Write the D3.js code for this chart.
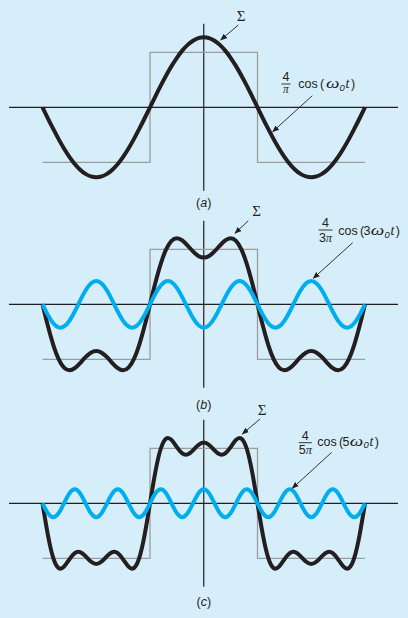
<!DOCTYPE html>
<html>
<head>
<meta charset="utf-8">
<script src="https://cdn.jsdelivr.net/npm/d3@7"></script>
<style>
  html, body { margin: 0; padding: 0; background: #d6eefa; }
  svg { display: block; }
</style>
</head>
<body>
<script>
// ---------- DATA (t in units of pi, values in units of the square-wave height) ----------
const tPi = [-1.5, -1.45, -1.4, -1.35, -1.3, -1.25, -1.2, -1.15, -1.1, -1.05,
  -1.0, -0.95, -0.9, -0.85, -0.8, -0.75, -0.7, -0.65, -0.6, -0.55,
  -0.5, -0.45, -0.4, -0.35, -0.3, -0.25, -0.2, -0.15, -0.1, -0.05,
  0,
  0.05, 0.1, 0.15, 0.2, 0.25, 0.3, 0.35, 0.4, 0.45, 0.5,
  0.55, 0.6, 0.65, 0.7, 0.75, 0.8, 0.85, 0.9, 0.95, 1.0,
  1.05, 1.1, 1.15, 1.2, 1.25, 1.3, 1.35, 1.4, 1.45, 1.5];

// (a) first term = sum of one term
const sumA = [0, -0.1992, -0.3935, -0.5780, -0.7484, -0.9003, -1.0301, -1.1345, -1.2109, -1.2576,
  -1.2732, -1.2576, -1.2109, -1.1345, -1.0301, -0.9003, -0.7484, -0.5780, -0.3935, -0.1992,
  0, 0.1992, 0.3935, 0.5780, 0.7484, 0.9003, 1.0301, 1.1345, 1.2109, 1.2576,
  1.2732,
  1.2576, 1.2109, 1.1345, 1.0301, 0.9003, 0.7484, 0.5780, 0.3935, 0.1992, 0,
  -0.1992, -0.3935, -0.5780, -0.7484, -0.9003, -1.0301, -1.1345, -1.2109, -1.2576, -1.2732,
  -1.2576, -1.2109, -1.1345, -1.0301, -0.9003, -0.7484, -0.5780, -0.3935, -0.1992, 0];

// (b) third-harmonic term (blue) and running sum (black)
const harmonic3 = [0, -0.1927, -0.3434, -0.4192, -0.4036, -0.3001, -0.1312, 0.0664, 0.2495, 0.3782,
  0.4244, 0.3782, 0.2495, 0.0664, -0.1312, -0.3001, -0.4036, -0.4192, -0.3434, -0.1927,
  0, 0.1927, 0.3434, 0.4192, 0.4036, 0.3001, 0.1312, -0.0664, -0.2495, -0.3782,
  -0.4244,
  -0.3782, -0.2495, -0.0664, 0.1312, 0.3001, 0.4036, 0.4192, 0.3434, 0.1927, 0,
  -0.1927, -0.3434, -0.4192, -0.4036, -0.3001, -0.1312, 0.0664, 0.2495, 0.3782, 0.4244,
  0.3782, 0.2495, 0.0664, -0.1312, -0.3001, -0.4036, -0.4192, -0.3434, -0.1927, 0];
const sumB = [0, -0.3919, -0.7369, -0.9972, -1.1520, -1.2004, -1.1613, -1.0681, -0.9614, -0.8794,
  -0.8488, -0.8794, -0.9614, -1.0681, -1.1613, -1.2004, -1.1520, -0.9972, -0.7369, -0.3919,
  0, 0.3919, 0.7369, 0.9972, 1.1520, 1.2004, 1.1613, 1.0681, 0.9614, 0.8794,
  0.8488,
  0.8794, 0.9614, 1.0681, 1.1613, 1.2004, 1.1520, 0.9972, 0.7369, 0.3919, 0,
  -0.3919, -0.7369, -0.9972, -1.1520, -1.2004, -1.1613, -1.0681, -0.9614, -0.8794, -0.8488,
  -0.8794, -0.9614, -1.0681, -1.1613, -1.2004, -1.1520, -0.9972, -0.7369, -0.3919, 0];

// (c) fifth-harmonic term (blue) and running sum (black)
const harmonic5 = [0, -0.1801, -0.2546, -0.1801, 0, 0.1801, 0.2546, 0.1801, 0, -0.1801,
  -0.2546, -0.1801, 0, 0.1801, 0.2546, 0.1801, 0, -0.1801, -0.2546, -0.1801,
  0, 0.1801, 0.2546, 0.1801, 0, -0.1801, -0.2546, -0.1801, 0, 0.1801,
  0.2546,
  0.1801, 0, -0.1801, -0.2546, -0.1801, 0, 0.1801, 0.2546, 0.1801, 0,
  -0.1801, -0.2546, -0.1801, 0, 0.1801, 0.2546, 0.1801, 0, -0.1801, -0.2546,
  -0.1801, 0, 0.1801, 0.2546, 0.1801, 0, -0.1801, -0.2546, -0.1801, 0];
const sumC = [0, -0.5720, -0.9915, -1.1773, -1.1520, -1.0203, -0.9067, -0.8880, -0.9614, -1.0595,
  -1.1034, -1.0595, -0.9614, -0.8880, -0.9067, -1.0203, -1.1520, -1.1773, -0.9915, -0.5720,
  0, 0.5720, 0.9915, 1.1773, 1.1520, 1.0203, 0.9067, 0.8880, 0.9614, 1.0595,
  1.1034,
  1.0595, 0.9614, 0.8880, 0.9067, 1.0203, 1.1520, 1.1773, 0.9915, 0.5720, 0,
  -0.5720, -0.9915, -1.1773, -1.1520, -1.0203, -0.9067, -0.8880, -0.9614, -1.0595, -1.1034,
  -1.0595, -0.9614, -0.8880, -0.9067, -1.0203, -1.1520, -1.1773, -0.9915, -0.5720, 0];

// square wave being approximated
const squareT = [-1.5, -0.5, -0.5, 0.5, 0.5, 1.5];
const squareV = [-1, -1, 1, 1, -1, -1];

// text
const panelLetters = ["a", "b", "c"];
const sumSymbol = "\u03A3";
const termNumerator = "4";
const termDenDigits = ["", "3", "5"];
const termArgDigits = ["", "3", "5"];

// ---------- LAYOUT ----------
const W = 408, H = 618;
const BLACK = "#231f20", BLUE = "#00aeef", GRAY = "#9d9d9d";
const SANS = "'Liberation Sans', Arial, sans-serif";
const SERIF = "'Liberation Serif', 'Times New Roman', serif";

const svg = d3.select("body").append("svg").attr("width", W).attr("height", H);
svg.append("rect").attr("width", W).attr("height", H).attr("fill", "#d6eefa");

const x = d3.scaleLinear().domain([-1.5, 1.5]).range([42.5, 365]);

const panels = [
  { zero: 107.3, sum: sumA, term: null,
    labelY: 207, sigma: [241, 20.5], sigArrow: [[238.3, 25], [220.7, 40]],
    texX: 298.3, texB: 88, frac: [286, 84, 4.5], termArrow: [[312.3, 95.7], [272.7, 131.7]] },
  { zero: 304.3, sum: sumB, term: harmonic3,
    labelY: 409, sigma: [256.7, 215.5], sigArrow: [[248.3, 220.7], [235, 233.3]],
    texX: 338.3, texB: 235, frac: [325.5, 230, 7], termArrow: [[352.7, 242.7], [313.3, 278.3]] },
  { zero: 503.3, sum: sumC, term: harmonic5,
    labelY: 606, sigma: [262, 414.5], sigArrow: [[260, 419], [242.3, 434]],
    texX: 317.3, texB: 445.5, frac: [305.3, 442.7, 6.5], termArrow: [[331.7, 452.3], [292.3, 488.3]] }
];

const defs = svg.append("defs");
defs.append("marker").attr("id", "ah").attr("viewBox", "0 0 10 10")
  .attr("refX", 9).attr("refY", 5).attr("markerWidth", 7).attr("markerHeight", 7)
  .attr("markerUnits", "userSpaceOnUse").attr("orient", "auto")
  .append("path").attr("d", "M0,1 L10,5 L0,9 Z").attr("fill", BLACK);

function arrow(g, seg) {
  g.append("line").attr("x1", seg[0][0]).attr("y1", seg[0][1])
    .attr("x2", seg[1][0]).attr("y2", seg[1][1])
    .attr("stroke", BLACK).attr("stroke-width", 0.9).attr("marker-end", "url(#ah)");
}

panels.forEach((p, i) => {
  const g = svg.append("g");
  const y = d3.scaleLinear().domain([-1, 1]).range([p.zero + 55, p.zero - 55]);

  // axes
  g.append("line").attr("x1", 9).attr("x2", 398).attr("y1", y(0)).attr("y2", y(0))
    .attr("stroke", BLACK).attr("stroke-width", 1.2);
  g.append("line").attr("x1", x(0)).attr("x2", x(0)).attr("y1", y(0) - 83.5).attr("y2", y(0) + 83.5)
    .attr("stroke", BLACK).attr("stroke-width", 1.2);

  // square wave
  const sq = squareT.map((t, k) => ({ t, v: squareV[k] }));
  g.append("path").datum(sq)
    .attr("d", d3.line().x(d => x(d.t)).y(d => y(d.v)))
    .attr("fill", "none").attr("stroke", GRAY).attr("stroke-width", 1.3);

  const curve = d3.line().x(d => x(d.t)).y(d => y(d.v)).curve(d3.curveNatural);

  // running sum (black)
  g.append("path").datum(tPi.map((t, k) => ({ t, v: p.sum[k] })))
    .attr("d", curve).attr("fill", "none").attr("stroke", BLACK)
    .attr("stroke-width", 4).attr("stroke-linejoin", "round");

  // harmonic term (blue)
  if (p.term) {
    g.append("path").datum(tPi.map((t, k) => ({ t, v: p.term[k] })))
      .attr("d", curve).attr("fill", "none").attr("stroke", BLUE)
      .attr("stroke-width", 4).attr("stroke-linejoin", "round");
  }

  // panel letter "(a)"
  const lt = g.append("text").attr("x", x(0)).attr("y", p.labelY)
    .attr("text-anchor", "middle").attr("font-family", SANS).attr("font-size", 12.5).attr("fill", BLACK);
  lt.append("tspan").text("(");
  lt.append("tspan").attr("font-style", "italic").text(panelLetters[i]);
  lt.append("tspan").text(")");

  // sigma
  g.append("text").attr("x", p.sigma[0]).attr("y", p.sigma[1]).attr("text-anchor", "middle")
    .attr("font-family", SERIF).attr("font-size", 15).attr("fill", BLACK).text(sumSymbol);
  arrow(g, p.sigArrow);

  // term label: fraction
  const [fx, barY, hw] = p.frac;
  g.append("text").attr("x", fx).attr("y", barY - 3).attr("text-anchor", "middle")
    .attr("font-family", SANS).attr("font-size", 12.5).attr("fill", BLACK).text(termNumerator);
  g.append("line").attr("x1", fx - hw).attr("x2", fx + hw).attr("y1", barY).attr("y2", barY)
    .attr("stroke", BLACK).attr("stroke-width", 0.9);
  const den = g.append("text").attr("x", fx).attr("y", barY + (termDenDigits[i] ? 11.5 : 8.8))
    .attr("text-anchor", "middle").attr("font-family", SANS).attr("font-size", termDenDigits[i] ? 12.5 : 11.5)
    .attr("fill", BLACK);
  if (termDenDigits[i]) den.append("tspan").text(termDenDigits[i]);
  den.append("tspan").attr("font-family", SERIF).attr("font-style", "italic").text("\u03C0");

  // "cos (n ω0 t)"
  const X = p.texX, B = p.texB;
  const sh = termArgDigits[i] ? 4.8 : 0;
  const piece = (s, dx, opts = {}) => {
    const t = g.append("text").attr("x", X + dx).attr("y", B + (opts.dy || 0))
      .attr("font-family", opts.fam || SANS).attr("font-size", opts.fs || 12.5)
      .attr("font-style", opts.it ? "italic" : "normal").attr("fill", BLACK).text(s);
    if (opts.len) t.attr("textLength", opts.len).attr("lengthAdjust", "spacingAndGlyphs");
    return t;
  };
  piece("cos", 0);
  piece("(", 21.7);
  if (termArgDigits[i]) piece(termArgDigits[i], 25.3);
  piece("\u03C9", 27.6 + sh, { fam: SERIF, it: true, fs: 14, len: 13.5 });
  piece("0", 41.3 + sh, { it: true, fs: 9.5, dy: 2.5 });
  piece("t", 47.3 + sh, { fam: SERIF, it: true, fs: 14 });
  piece(")", 52.6 + sh);
  arrow(g, p.termArrow);
});
</script>
</body>
</html>
